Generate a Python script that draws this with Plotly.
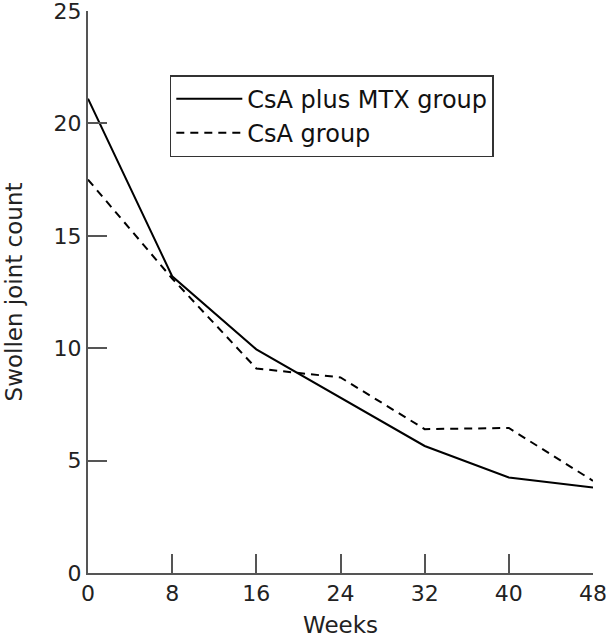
import plotly.graph_objects as go

weeks = [0, 8, 16, 24, 32, 40, 48]
csa_mtx = [21.1, 13.2, 9.95, 7.8, 5.65, 4.25, 3.8]
csa = [17.5, 13.1, 9.1, 8.7, 6.4, 6.45, 4.1]
y_ticks = [0, 5, 10, 15, 20, 25]
x_ticks = [0, 8, 16, 24, 32, 40, 48]

FONT = "'DejaVu Sans', sans-serif"
AX = "#555555"

fig = go.Figure()
fig.add_trace(go.Scatter(x=weeks, y=csa_mtx, mode="lines", name="CsA plus MTX group",
                         line=dict(color="black", width=2)))
fig.add_trace(go.Scatter(x=weeks, y=csa, mode="lines", name="CsA group",
                         line=dict(color="black", width=2, dash="8px,6px")))

fig.update_layout(
    width=606, height=640,
    margin=dict(l=88, r=13, t=11, b=67),
    paper_bgcolor="white", plot_bgcolor="white",
    font=dict(family=FONT, color="#222222", size=22),
    legend=dict(x=0.162, y=0.886, xanchor="left", yanchor="top",
                bgcolor="white", bordercolor="#333333", borderwidth=1.5,
                font=dict(size=24, family=FONT, color="#111111"),
                itemwidth=66, tracegroupgap=0),
    xaxis=dict(range=[0, 48], tickvals=x_ticks, ticks="inside", ticklen=19,
               tickwidth=1.5, tickcolor=AX, showline=True, linecolor=AX, linewidth=2,
               showgrid=False, zeroline=False, tickfont=dict(size=22), automargin=False,
               ticklabeloverflow="allow",
               title=dict(text="Weeks", font=dict(size=23), standoff=11)),
    yaxis=dict(range=[0, 25.001], tickvals=y_ticks, ticks="inside", ticklen=19,
               tickwidth=1.5, tickcolor=AX, showline=True, linecolor=AX, linewidth=2,
               showgrid=False, zeroline=False, tickfont=dict(size=22), automargin=False,
               ticklabeloverflow="allow",
               title=dict(text="Swollen joint count", font=dict(size=23), standoff=25)),
)

fig.write_html("out.html", config={"displayModeBar": False},
               post_script="document.body.style.margin='0';document.body.style.overflow='hidden';")
